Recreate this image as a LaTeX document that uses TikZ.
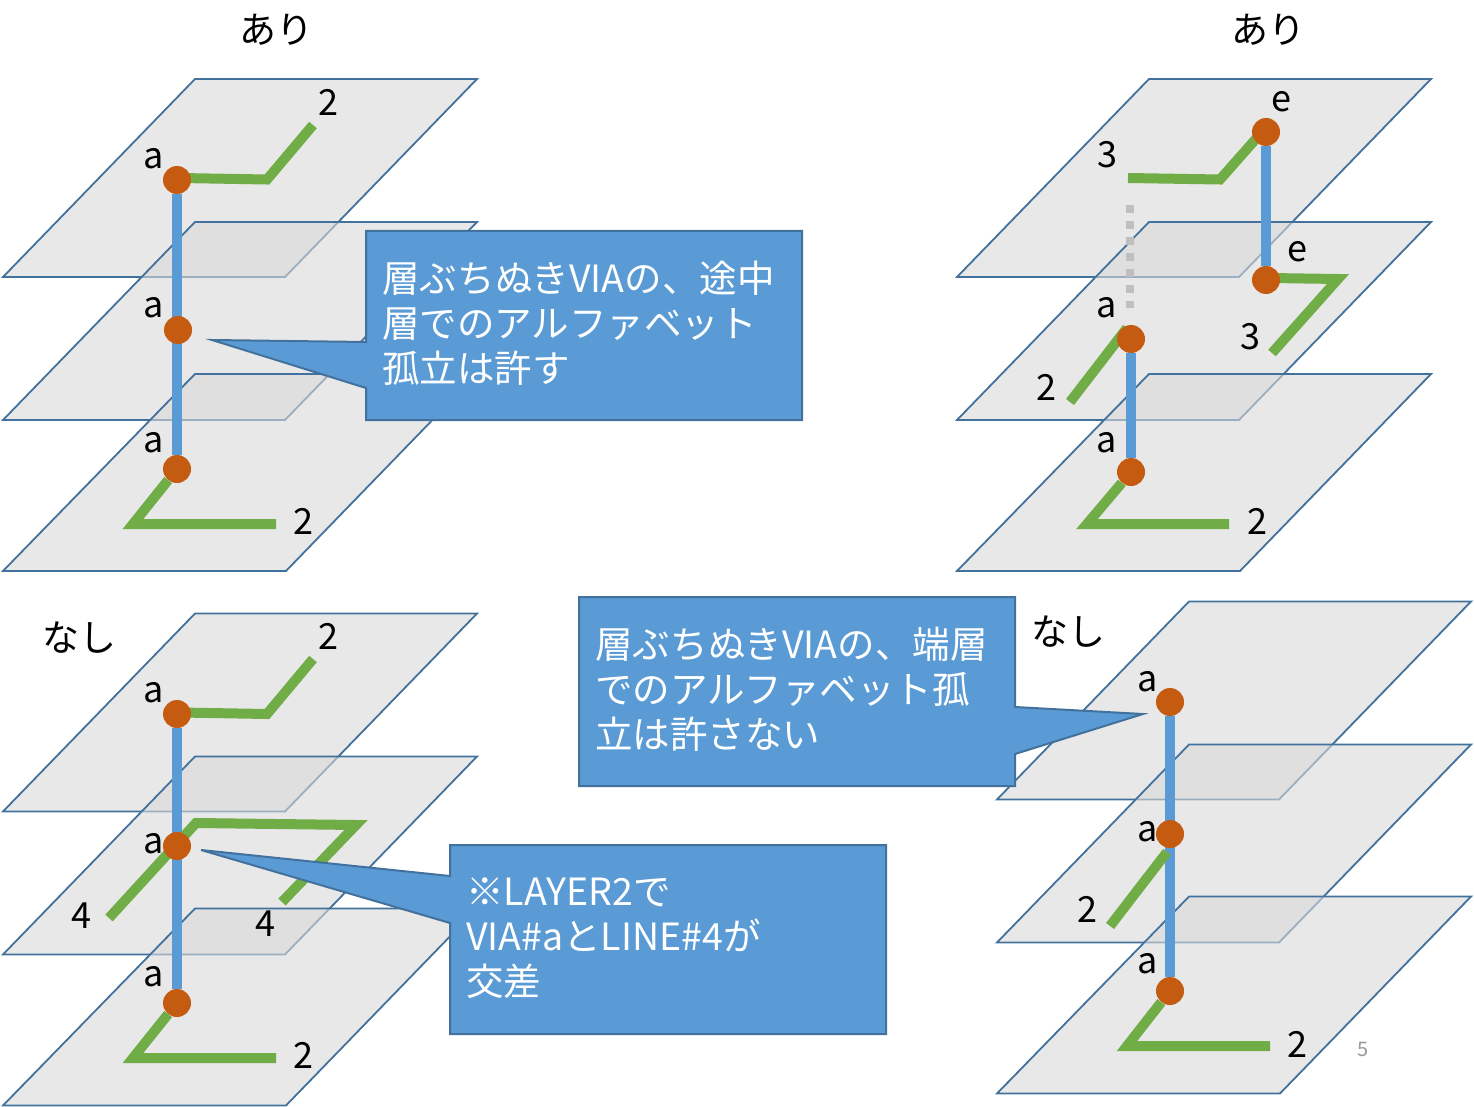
\documentclass[tikz,border=0pt]{standalone}
\usepackage{fontspec}
\setmainfont{Noto Sans CJK JP}
\pgfdeclarelayer{bg}
\pgfdeclarelayer{fg}
\pgfsetlayers{bg,main,fg}
\definecolor{planeedge}{HTML}{41719C}
\definecolor{planefill}{HTML}{D9D9D9}
\definecolor{viablue}{HTML}{5B9BD5}
\definecolor{wiregreen}{HTML}{70AD47}
\definecolor{viaorange}{HTML}{C55A11}
\definecolor{dotgray}{HTML}{BFBFBF}
\tikzset{
    plane/.style={draw=planeedge, line width=1.8pt, fill=planefill, fill opacity=0.6},
    via/.style={circle, fill=viaorange, minimum size=28pt, inner sep=0pt},
    lbl/.style={inner sep=0pt, font=\fontsize{36}{36}\selectfont},
    title/.style={inner sep=0pt, font=\fontsize{37}{37}\selectfont},
    viaedge/.style={draw=viablue, line width=10pt},
    wire/.style={draw=wiregreen, line width=10pt},
    notebox/.style={draw=planeedge, line width=2pt, fill=viablue},
    notetext/.style={anchor=west, inner sep=0pt, text=white, align=left, font=\fontsize{37.5}{45}\selectfont},
}
\newcommand{\layerstack}[2]{
    \draw[plane, shift={(#1,#2)}] (195,0) -- (477,0) -- (285,198) -- (3,198) -- cycle;
    \draw[plane, shift={(#1,#2)}] (195,143) -- (477,143) -- (285,341) -- (3,341) -- cycle;
    \draw[plane, shift={(#1,#2)}] (195,295) -- (477,295) -- (286,492) -- (3,492) -- cycle;
}
\begin{document}
\begin{tikzpicture}[x=1pt, y=-1pt]
    \useasboundingbox (0,0) rectangle (1474,1107);

    % upper left
    \node (ta) [title] at (276,30) {あり};
    \node (a1) [via] at (177,180) {};
    \node (a2) [via] at (178,330) {};
    \node (a3) [via] at (177,469) {};
    \node (la1) [lbl] at (154,159) {a};
    \node (la2) [lbl] at (154,308) {a};
    \node (la3) [lbl] at (154,443) {a};
    \node (la4) [lbl] at (328,102) {2};
    \node (la5) [lbl] at (303,521) {2};
    \coordinate (wa0) at (180,178);
    \coordinate (wa1) at (267,179.5);
    \coordinate (wa2) at (313,125);
    \coordinate (wa3) at (133,524);
    \coordinate (wa4) at (276,524);

    % upper right
    \node (tb) [title] at (1268,30) {あり};
    \node (e1) [via] at (1266,132) {};
    \node (e2) [via] at (1266,280) {};
    \node (b2) [via] at (1131,339) {};
    \node (b3) [via] at (1131,472) {};
    \node (lb1) [lbl] at (1107,155) {3};
    \node (lb2) [lbl] at (1281,102) {e};
    \node (lb3) [lbl] at (1297,252) {e};
    \node (lb4) [lbl] at (1107,308) {a};
    \node (lb5) [lbl] at (1250,337) {3};
    \node (lb6) [lbl] at (1046,387) {2};
    \node (lb7) [lbl] at (1107,443) {a};
    \node (lb8) [lbl] at (1257,521) {2};
    \coordinate (wb1) at (1128,178);
    \coordinate (wb2) at (1220,179.5);
    \coordinate (wb9) at (1262,132);
    \coordinate (wb0) at (1270,278);
    \coordinate (wb3) at (1338,279);
    \coordinate (wb4) at (1272,353);
    \coordinate (wb8) at (1127,328);
    \coordinate (wb5) at (1070,402);
    \coordinate (wb6) at (1087,524);
    \coordinate (wb7) at (1229,524);
    \coordinate (db1) at (1130,205);
    \coordinate (db2) at (1130,308);

    % lower left
    \node (tc) [title] at (79,638) {なし};
    \node (c1) [via] at (177,714) {};
    \node (c2) [via] at (177,846) {};
    \node (c3) [via] at (177,1003) {};
    \node (lc1) [lbl] at (154,693) {a};
    \node (lc2) [lbl] at (154,844) {a};
    \node (lc3) [lbl] at (154,977) {a};
    \node (lc4) [lbl] at (328,636) {2};
    \node (lc5) [lbl] at (81,916) {4};
    \node (lc6) [lbl] at (265,924) {4};
    \node (lc7) [lbl] at (303,1055) {2};
    \coordinate (wc0) at (180,712.5);
    \coordinate (wc1) at (267,714);
    \coordinate (wc2) at (313,659);
    \coordinate (wc3) at (109,918);
    \coordinate (wc4) at (196,823);
    \coordinate (wc5) at (356,825);
    \coordinate (wc6) at (282,902);
    \coordinate (wc7) at (133,1058);
    \coordinate (wc8) at (276,1058);

    % lower right
    \node (td) [title] at (1068,632) {なし};
    \node (d1) [via] at (1170,702) {};
    \node (d2) [via] at (1170,834) {};
    \node (d3) [via] at (1170,991) {};
    \node (ld1) [lbl] at (1148,682) {a};
    \node (ld2) [lbl] at (1148,832) {a};
    \node (ld3) [lbl] at (1148,964) {a};
    \node (ld4) [lbl] at (1087,909) {2};
    \node (ld5) [lbl] at (1297,1044) {2};
    \node (pg) [inner sep=0pt, text=gray!80, font=\fontsize{20}{20}\selectfont] at (1363,1049) {5};
    \coordinate (wd1) at (1167,852);
    \coordinate (wd2) at (1110,926);
    \coordinate (wd3) at (1127,1046);
    \coordinate (wd4) at (1270,1046);

    \begin{pgfonlayer}{bg}
        \layerstack{0}{79}
        \layerstack{954}{79}
        \layerstack{0}{613.5}
        \layerstack{994}{601.5}

        \draw[viaedge] (a1) -- (a3);
        \draw[viaedge] (e1) -- (e2);
        \draw[viaedge] (b2) -- (b3);
        \draw[viaedge] (c1) -- (c3);
        \draw[viaedge] (d1) -- (d3);
        \draw[draw=dotgray, line width=8pt, dash pattern=on 8pt off 8pt] (db1) -- (db2);

        \draw[wire] (wa0) -- (wa1) -- (wa2);
        \draw[wire] (a3) -- (wa3) -- (wa4);
        \draw[wire] (wb1) -- (wb2) -- (wb9);
        \draw[wire] (wb0) -- (wb3) -- (wb4);
        \draw[wire] (wb8) -- (wb5);
        \draw[wire] (b3) -- (wb6) -- (wb7);
        \draw[wire] (wc0) -- (wc1) -- (wc2);
        \draw[wire] (wc3) -- (wc4) -- (wc5) -- (wc6);
        \draw[wire] (c3) -- (wc7) -- (wc8);
        \draw[wire] (wd1) -- (wd2);
        \draw[wire] (d3) -- (wd3) -- (wd4);
    \end{pgfonlayer}

    \begin{pgfonlayer}{fg}
        \draw[notebox] (366,231) -- (802,231) -- (802,420) -- (366,420) -- (366,388) -- (212,340) -- (366,342) -- cycle;
        \node (na) [notetext] at (382,323) {層ぶちぬきVIAの、途中\\層でのアルファベット\\孤立は許す};
        \draw[notebox] (579,597) -- (1015,597) -- (1015,707) -- (1143,714) -- (1015,754) -- (1015,786) -- (579,786) -- cycle;
        \node (nb) [notetext] at (595,689) {層ぶちぬきVIAの、端層\\でのアルファベット孤\\立は許さない};
        \draw[notebox] (450,845) -- (886,845) -- (886,1034) -- (450,1034) -- (450,923) -- (201,850) -- (450,876) -- cycle;
        \node (nc) [notetext] at (466,938.5) {※LAYER2で\\VIA\#aとLINE\#4が\\交差};
    \end{pgfonlayer}
\end{tikzpicture}
\end{document}
